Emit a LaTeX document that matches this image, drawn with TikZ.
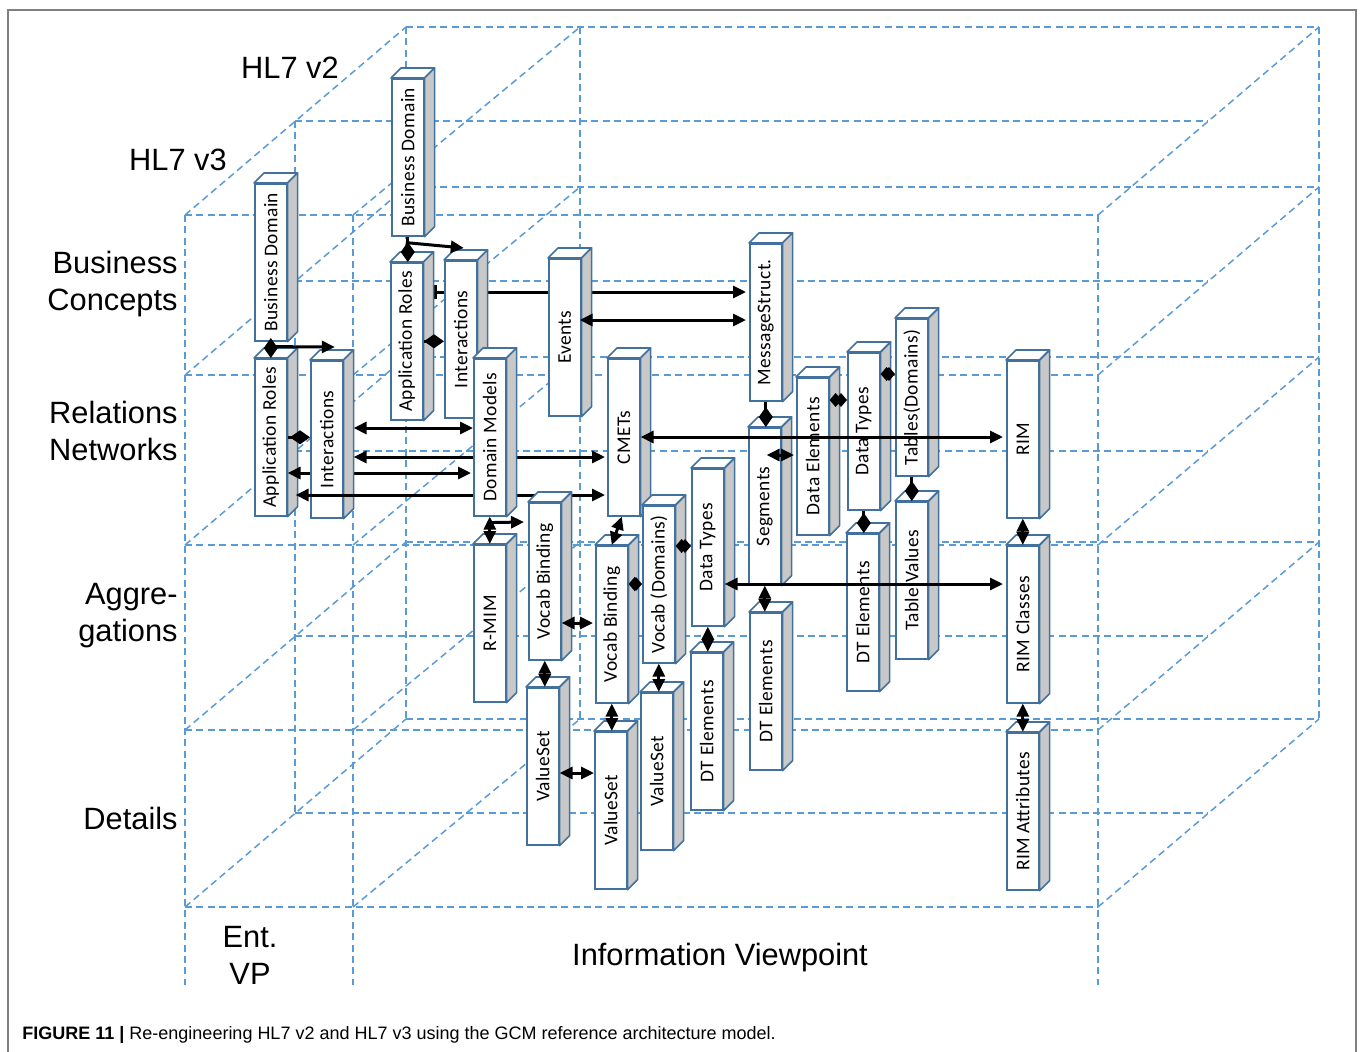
\documentclass[tikz,border=0pt]{standalone}
\usepackage{fontspec}
\usepackage{tikz}
\usepackage{graphicx}
\usetikzlibrary{arrows.meta, calc}
\setmainfont{Liberation Sans}
\newfontfamily\boxfont[LetterSpace=2]{Carlito}
\definecolor{gridblue}{RGB}{91,155,213}
\definecolor{boxblue}{RGB}{65,113,156}
\definecolor{sidegray}{RGB}{200,200,200}
\definecolor{framegray}{RGB}{128,128,128}
\pgfdeclarelayer{bg}
\pgfdeclarelayer{mid}
\pgfdeclarelayer{fg}
\pgfsetlayers{bg,mid,main,fg}

\newcommand{\cuboid}[4]{%
  \node[slab] (#1) at (#2,#3) {\rotatebox{90}{#4}};
  \filldraw[topface] (#1.north west) -- ($(#1.north west)+(10,-10)$) -- ($(#1.north east)+(10,-10)$) -- (#1.north east) -- cycle;
  \filldraw[sideface] (#1.north east) -- ($(#1.north east)+(10,-10)$) -- ($(#1.south east)+(10,-10)$) -- (#1.south east) -- cycle;
}

\begin{document}
\begin{tikzpicture}[x=0.5pt, y=-0.5pt,
    gridline/.style={draw=gridblue, dash pattern=on 3.5pt off 2.2pt, line width=0.75pt},
    slab/.style={rectangle, draw=boxblue, fill=white, line width=0.8pt, anchor=north west, minimum width=16pt, minimum height=78.5pt, inner sep=0pt, font=\boxfont\fontsize{9.7}{11}\selectfont},
    topface/.style={draw=boxblue, fill=white, line width=0.8pt, line join=round},
    sideface/.style={draw=boxblue, fill=sidegray, line width=0.8pt, line join=round},
    arrow/.style={-{Triangle[length=6.5pt,width=6pt]}, line width=1.5pt},
    link/.style={{Triangle[length=6.5pt,width=6pt]}-{Triangle[length=6.5pt,width=6pt]}, line width=1.5pt},
    joint/.style={-{Diamond[length=10pt,width=7pt]}, line width=1.5pt},
    twinjoint/.style={{Diamond[length=6pt,width=7pt]}-{Diamond[length=6pt,width=7pt]}, line width=1.5pt},
    heading/.style={font=\fontsize{15.4}{18.5}\selectfont, align=right, anchor=east, inner sep=0pt}]

    \useasboundingbox (0,0) rectangle (1360,1051);
    \draw[framegray, line width=1.2pt] (8,1060) -- (8,10) -- (1356,10) -- (1356,1060);

    \begin{pgfonlayer}{bg}
    \foreach \fx/\bx in {185/406, 353/580, 1098/1319} {
        \draw[gridline] (\fx,215) -- (\fx,985);
        \draw[gridline] (\bx,27) -- (\bx,719);
        \foreach \ry in {215,375,545,730,907}
            \draw[gridline] (\fx,\ry) -- (\bx,\ry-188);
    }
    \foreach \ry in {215,375,545,730,907} {
        \draw[gridline] (185,\ry) -- (1098,\ry);
        \draw[gridline] (295,\ry-94) -- (1208,\ry-94);
        \draw[gridline] (406,\ry-188) -- (1319,\ry-188);
    }
    \draw[gridline] (295,121) -- (295,813);
    \end{pgfonlayer}

    \node[heading, anchor=center] (v2) at (290,68) {HL7 v2};
    \node[heading, anchor=center] (v3) at (178,160) {HL7 v3};
    \node[heading] (concepts) at (178,284) {Business\\Concepts};
    \node[heading] (relations) at (178,431) {Relations\\Networks};
    \node[heading] (aggregations) at (178,616) {Aggre-\\gations};
    \node[heading] (details) at (178,818) {Details};
    \node[heading, anchor=center, align=center] (entvp) at (250,955) {Ent.\\VP};
    \node[heading, anchor=center] (infovp) at (720,958) {Information Viewpoint};
    \node[anchor=west, inner sep=0pt, font=\fontsize{9}{10}\selectfont] (caption) at (22,1035) {\textbf{FIGURE 11 |} Re-engineering HL7 v2 and HL7 v3 using the GCM reference architecture model.};

    % HL7 v2
    \cuboid{bd2}{391}{78}{Business Domain}
    \cuboid{ar2}{390}{262}{Application Roles}
    \cuboid{int2}{444}{260}{Interactions}
    \cuboid{events}{548}{258}{Events}
    \cuboid{msg}{749}{243}{MessageStruct.}
    \cuboid{seg}{748}{427}{Segments}
    \cuboid{de}{796}{377}{Data Elements}
    \cuboid{dt2}{847}{352}{Data Types}
    \cuboid{tabs}{895}{318}{Tables(Domains)}
    \cuboid{tabv}{895}{501}{Table Values}
    \cuboid{dtea}{846}{533}{DT Elements}
    \cuboid{dteb}{749}{612}{DT Elements}

    \begin{pgfonlayer}{mid}
    \draw[{Bar[width=7pt]}-{Triangle[length=6.5pt,width=6pt]}, line width=1.5pt] ($(ar2.north east)+(10,30)$) -- ($(msg.north west)+(-3,49)$);
    \end{pgfonlayer}
    \draw[joint] (bd2.south) -- (bd2.south |- ar2.north);
    \draw[arrow] ($(bd2.south)+(-2,6)$) -- ($(int2.north)+(3,-12)$);
    \draw[joint] (ar2.east) -- (ar2.east -| int2.west);
    \draw[link] ($(events.north east)+(-2,62)$) -- ($(msg.north west)+(-3,77)$);
    \draw[joint] (msg.south) -- (msg.south |- seg.north);
    \draw[link] ($(seg.north east)+(-15,28)$) -- ($(de.north west)+(-2,78)$);
    \draw[twinjoint] ($(de.north east)+(0,23)$) -- ($(dt2.north west)+(0,48)$);
    \draw[twinjoint] ($(dt2.north east)+(0,22)$) -- ($(tabs.north west)+(0,56)$);
    \draw[joint] (tabs.south) -- (tabs.south |- tabv.north);
    \draw[joint] (dt2.south) -- (dt2.south |- dtea.north);
    \draw[link] (seg.south) -- (seg.south |- dteb.north);

    % HL7 v3
    \begin{pgfonlayer}{fg}
    \cuboid{dm}{473}{358}{Domain Models}
    \end{pgfonlayer}
    \cuboid{bd3}{254}{183}{Business Domain}
    \cuboid{ar3}{254}{358}{Application Roles}
    \draw[link] ($(ar3.north east)+(0,115)$) -- ($(dm.north west)+(-2,115)$);
    \cuboid{int3}{310}{360}{Interactions}
    \cuboid{cmets}{607}{358}{CMETs}
    \draw[link] ($(ar3.north east)+(8,137)$) -- ($(cmets.north west)+(-2,137)$);
    \cuboid{rmim}{473}{544}{R-MIM}
    \cuboid{vbl}{528}{502}{Vocab Binding}
    \cuboid{vsl}{526}{687}{ValueSet}
    \cuboid{vbr}{595}{545}{Vocab Binding}
    \cuboid{vsm}{594}{731}{ValueSet}
    \cuboid{vocab}{642}{505}{Vocab (Domains)}
    \cuboid{vsr}{640}{692}{ValueSet}
    \cuboid{dt3}{691}{468}{Data Types}
    \cuboid{dte3}{690}{652}{DT Elements}
    \cuboid{rim}{1006}{360}{RIM}
    \cuboid{rimc}{1006}{545}{RIM Classes}
    \cuboid{rima}{1006}{732}{RIM Attributes}

    \draw[joint] (bd3.south) -- (bd3.south |- ar3.north);
    \draw[arrow] ($(bd3.south)+(-1,5)$) -- ($(int3.north)+(8,-13)$);
    \draw[joint] (ar3.east) -- (ar3.east -| int3.west);
    \draw[link] ($(int3.north east)+(10,68)$) -- ($(dm.north west)+(0,70)$);
    \draw[arrow] ($(dm.north west)+(0,99)$) -- ($(int3.north east)+(10,97)$);
    \draw[arrow] ($(dm.north east)+(10,99)$) -- ($(cmets.north west)+(-2,99)$);
    \draw[link] (dm.south) -- (dm.south |- rmim.north);
    \draw[arrow] ($(dm.south)+(-2,6)$) -- ($(vbl.north west)+(-4,20)$);
    \draw[link] ($(cmets.south)+(-2,0)$) -- (vbr.north);
    \draw[link] ($(vbl.north east)+(0,121)$) -- ($(vbr.north west)+(-2,78)$);
    \draw[link] (vbl.south) -- (vbl.south |- vsl.north);
    \draw[link] ($(vsl.north east)+(0,86)$) -- ($(vsm.north west)+(0,42)$);
    \draw[link] (vbr.south) -- (vbr.south |- vsm.north);
    \draw[twinjoint] ($(vbr.north east)+(0,39)$) -- ($(vocab.north west)+(0,79)$);
    \draw[link] (vocab.south) -- (vocab.south |- vsr.north);
    \draw[twinjoint] ($(vocab.north east)+(0,41)$) -- ($(dt3.north west)+(0,78)$);
    \draw[link] (dt3.south) -- (dt3.south |- dte3.north);
    \draw[link] ($(dt3.north east)+(0,116)$) -- ($(rimc.north west)+(-3,39)$);
    \draw[link] ($(cmets.north east)+(0,79)$) -- ($(rim.north west)+(-3,77)$);
    \draw[link] (rim.south) -- (rimc.north);
    \draw[link] (rimc.south) -- (rima.north);

\end{tikzpicture}
\end{document}
